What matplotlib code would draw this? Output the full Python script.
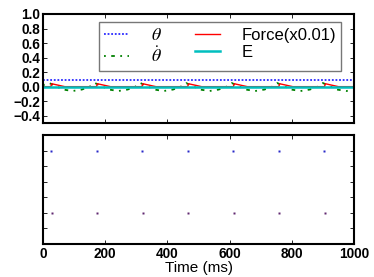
import numpy as np
import matplotlib
matplotlib.use('Agg')
import matplotlib.pyplot as plt

# top panel: state traces
theta_t = [0, 1000]
theta = [0.095, 0.095]

thetadot_t = [0, 20, 30, 45, 65, 95, 125, 150, 167, 177, 192, 212, 242, 272, 297,
              313, 323, 338, 358, 388, 418, 443, 460, 470, 485, 505, 535, 565, 590,
              607, 617, 632, 652, 682, 712, 737, 753, 763, 778, 798, 828, 858, 883,
              900, 910, 925, 945, 975, 1000]
thetadot = [0.02, 0.05, 0.03, 0.0, -0.04, -0.06, -0.04, 0.0, 0.05, 0.03, 0.0, -0.04, -0.06, -0.04, 0.0,
            0.05, 0.03, 0.0, -0.04, -0.06, -0.04, 0.0, 0.05, 0.03, 0.0, -0.04, -0.06, -0.04, 0.0,
            0.05, 0.03, 0.0, -0.04, -0.06, -0.04, 0.0, 0.05, 0.03, 0.0, -0.04, -0.06, -0.04, 0.0,
            0.05, 0.03, 0.0, -0.04, -0.06, -0.045]

force_t = [0, 25, 28, 70, 172, 175, 217, 318, 321, 363, 465, 468, 510,
           612, 615, 657, 758, 761, 803, 905, 908, 950, 1000]
force = [0, 0, 0.04, 0, 0, 0.04, 0, 0, 0.04, 0, 0, 0.04, 0,
         0, 0.04, 0, 0, 0.04, 0, 0, 0.04, 0, 0]

energy_t = [0, 1000]
energy = [0.0, 0.0]

# bottom panel: spike raster
spikes_a = [26, 172, 318, 465, 612, 758, 905]
spikes_b = [28, 174, 320, 467, 614, 760, 907]
row_a = 6
row_b = 2

plt.rcParams['font.family'] = ['Liberation Sans', 'DejaVu Sans']
plt.rcParams['mathtext.fontset'] = 'stix'

fig = plt.figure(figsize=(3.74, 2.77), dpi=100)
ax1 = fig.add_axes([0.115, 0.556, 0.8316, 0.3935])
ax2 = fig.add_axes([0.115, 0.119, 0.8316, 0.3935])

ax1.plot(theta_t, theta, color='#2a2aff', lw=1.3, ls=(0, (1, 1)), label=r'$\theta$')
ax1.plot(thetadot_t, thetadot, color='#008000', lw=1.3, ls=(0, (1, 3, 2, 3)), label=r'$\dot{\theta}$')
ax1.plot(force_t, force, color='#ff0000', lw=1.0, label='Force(x0.01)')
ax1.plot(energy_t, energy, color='#00bfbf', lw=1.8, label='E')
ax1.set_xlim(0, 1000)
ax1.set_ylim(-0.5, 1.0)
ax1.set_yticks([-0.4, -0.2, 0.0, 0.2, 0.4, 0.6, 0.8, 1.0])
ax1.set_xticklabels([])

leg = fig.legend(loc='upper left', bbox_to_anchor=(0.265, 0.922), ncol=2,
                 fontsize=12, frameon=True, fancybox=False, handlelength=1.5,
                 columnspacing=2.0, handletextpad=1.3, labelspacing=0.15,
                 borderpad=0.3, borderaxespad=0)
leg.get_frame().set_edgecolor('#555555')
leg.get_frame().set_linewidth(1.0)
for t in leg.get_texts()[:2]:
    t.set_fontsize(13)

ax2.plot(spikes_a, [row_a] * len(spikes_a), ls='none', marker='s', ms=1.6,
         mec='none', color='#2828c8')
ax2.plot(spikes_b, [row_b] * len(spikes_b), ls='none', marker='s', ms=1.6,
         mec='none', color='#602870')
ax2.set_xlim(0, 1000)
ax2.set_ylim(0, 7)
ax2.set_yticks([1, 2, 3, 4, 5, 6])
ax2.set_yticklabels([])
ax2.set_xticks([0, 200, 400, 600, 800, 1000])
ax2.set_xlabel('Time (ms)', fontsize=11, labelpad=0)

for ax in (ax1, ax2):
    for s in ax.spines.values():
        s.set_linewidth(1.5)
    ax.tick_params(direction='in', top=True, right=True, length=3, width=0.6,
                   labelsize=9.8, pad=2)
    for lab in ax.get_xticklabels() + ax.get_yticklabels():
        lab.set_fontweight('bold')

fig.savefig('out.png', dpi=100)
